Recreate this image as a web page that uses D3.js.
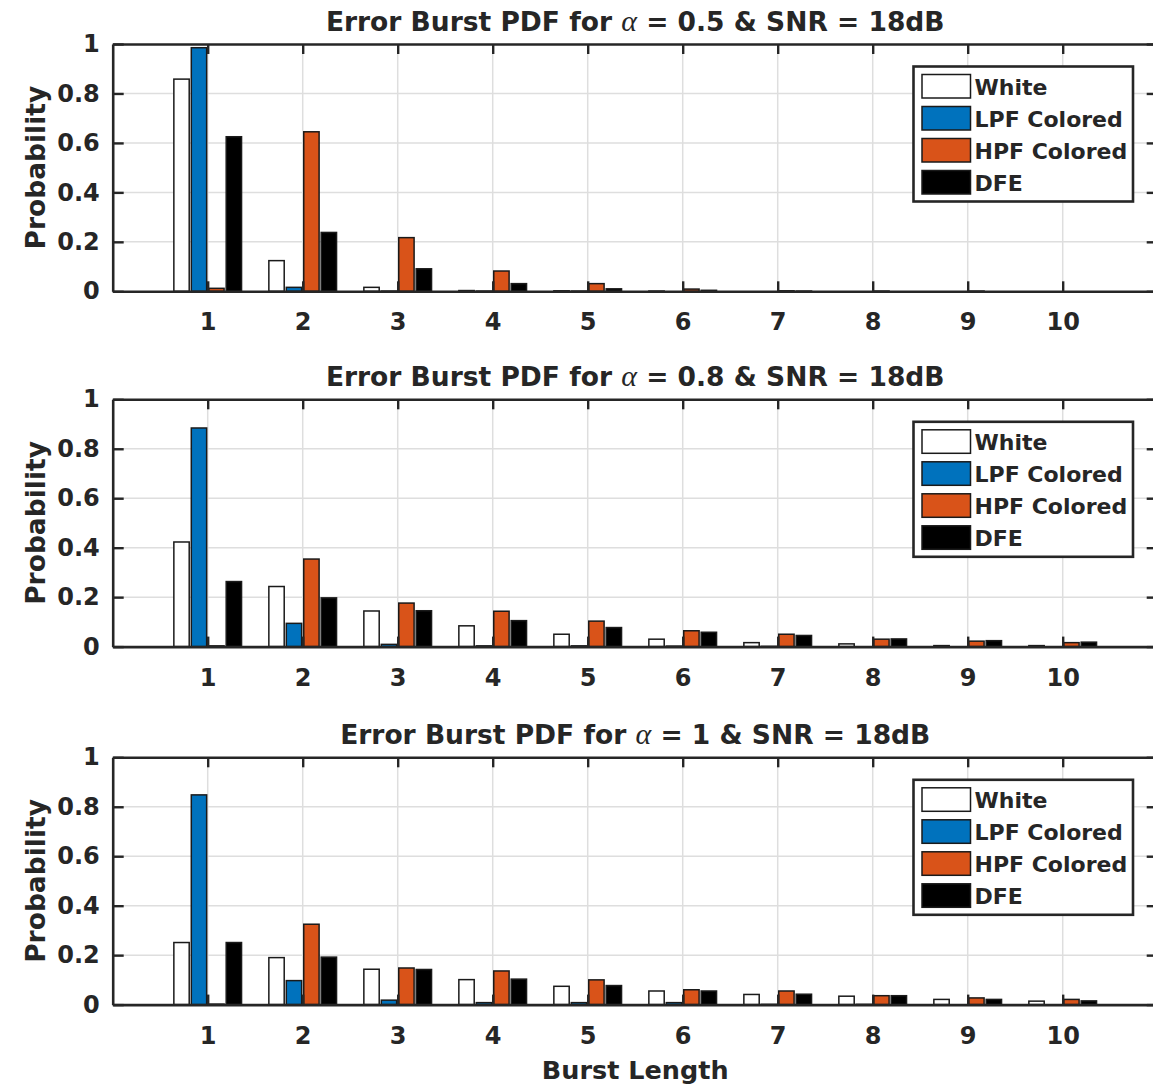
<!DOCTYPE html>
<html>
<head>
<meta charset="utf-8">
<script src="https://cdn.jsdelivr.net/npm/d3@7"></script>
<style>
  html, body { margin: 0; padding: 0; background: #fff; }
  svg { display: block; }
  text { font-family: "DejaVu Sans", sans-serif; font-weight: bold; fill: #262626; }
</style>
</head>
<body>
<svg id="chart" width="1153" height="1087"></svg>
<script>
// ---------- data ----------
const categories = [1, 2, 3, 4, 5, 6, 7, 8, 9, 10];
const seriesNames = ["White", "LPF Colored", "HPF Colored", "DFE"];
const seriesColors = ["#ffffff", "#0072BD", "#D95319", "#000000"];
const yTicks = [0, 0.2, 0.4, 0.6, 0.8, 1];
const yTickLabels = ["0", "0.2", "0.4", "0.6", "0.8", "1"];
const alphaValues = ["0.5", "0.8", "1"];
const snrLabel = "18dB";

// alpha = 0.5
const white05 = [0.858, 0.124, 0.016, 0.003, 0.002, 0.001, 0, 0, 0, 0];
const lpf05   = [0.985, 0.016, 0.001, 0.001, 0.001, 0, 0, 0, 0, 0];
const hpf05   = [0.012, 0.645, 0.217, 0.082, 0.031, 0.009, 0.002, 0.001, 0.001, 0];
const dfe05   = [0.625, 0.238, 0.091, 0.031, 0.010, 0.004, 0.001, 0, 0, 0];
// alpha = 0.8
const white08 = [0.423, 0.243, 0.144, 0.084, 0.050, 0.030, 0.016, 0.011, 0.004, 0.004];
const lpf08   = [0.884, 0.094, 0.009, 0.003, 0.003, 0.002, 0.001, 0, 0, 0];
const hpf08   = [0.003, 0.354, 0.176, 0.143, 0.103, 0.064, 0.050, 0.030, 0.022, 0.016];
const dfe08   = [0.263, 0.197, 0.145, 0.105, 0.077, 0.058, 0.045, 0.031, 0.024, 0.018];
// alpha = 1
const white10 = [0.251, 0.190, 0.143, 0.101, 0.074, 0.055, 0.041, 0.034, 0.021, 0.014];
const lpf10   = [0.848, 0.097, 0.018, 0.008, 0.008, 0.008, 0.001, 0.001, 0, 0];
const hpf10   = [0.002, 0.325, 0.148, 0.136, 0.100, 0.060, 0.055, 0.036, 0.027, 0.021];
const dfe10   = [0.251, 0.192, 0.142, 0.103, 0.077, 0.055, 0.042, 0.036, 0.021, 0.015];

const panelData = [
  [white05, lpf05, hpf05, dfe05],
  [white08, lpf08, hpf08, dfe08],
  [white10, lpf10, hpf10, dfe10]
];

// ---------- layout ----------
const svg = d3.select("#chart");
const axLeft = 112.7, axRight = 1157.7;
const panelTops = [44, 399.3, 757.3];
const panelH = 247.3;
const axisColor = "#262626";
const gridColor = "#dedede";

const x = d3.scaleLinear().domain([0, 11]).range([axLeft, axRight]);
const unit = x(1) - x(0);
const groupWidth = 4 / 5.5;
const inner = d3.scaleBand().domain(seriesNames)
  .range([-groupWidth / 2 * unit, groupWidth / 2 * unit]).paddingInner(0.12).paddingOuter(0.04);

panelData.forEach((series, pi) => {
  const top = panelTops[pi];
  const bottom = top + panelH;
  const y = d3.scaleLinear().domain([0, 1]).range([bottom, top]);
  const g = svg.append("g");

  // grid
  g.append("g").selectAll("line.vg").data(categories).join("line")
    .attr("x1", d => x(d)).attr("x2", d => x(d))
    .attr("y1", top).attr("y2", bottom)
    .attr("stroke", gridColor).attr("stroke-width", 1.5);
  g.append("g").selectAll("line.hg").data(yTicks.slice(1, -1)).join("line")
    .attr("x1", axLeft).attr("x2", axRight)
    .attr("y1", d => y(d)).attr("y2", d => y(d))
    .attr("stroke", gridColor).attr("stroke-width", 1.5);

  // bars
  series.forEach((vals, si) => {
    g.append("g").selectAll("rect").data(categories).join("rect")
      .attr("x", (d) => x(d) + inner(seriesNames[si]))
      .attr("width", inner.bandwidth())
      .attr("y", (d, i) => y(vals[i]))
      .attr("height", (d, i) => bottom - y(vals[i]))
      .attr("fill", seriesColors[si])
      .attr("stroke", "#1a1a1a").attr("stroke-width", 1.5);
  });

  // axes (d3 axes, inward ticks)
  const xAxisB = d3.axisBottom(x).tickValues(categories).tickSizeInner(-10).tickSizeOuter(0).tickPadding(22);
  const xAxisT = d3.axisTop(x).tickValues(categories).tickSizeInner(-10).tickSizeOuter(0).tickFormat("");
  const yAxisL = d3.axisLeft(y).tickValues(yTicks).tickSizeInner(-11).tickSizeOuter(0).tickPadding(13)
    .tickFormat((d, i) => yTickLabels[i]);
  const yAxisR = d3.axisRight(y).tickValues(yTicks).tickSizeInner(-11).tickSizeOuter(0).tickFormat("");

  const styleAxis = sel => {
    sel.select(".domain").attr("stroke", axisColor).attr("stroke-width", 2.6);
    sel.selectAll(".tick line").attr("stroke", axisColor).attr("stroke-width", 2.4);
    sel.selectAll(".tick text").attr("fill", axisColor)
      .style("font-family", "'DejaVu Sans', sans-serif").style("font-weight", "bold").style("font-size", "24px");
  };
  g.append("g").attr("transform", `translate(0,${bottom})`).call(xAxisB).call(styleAxis);
  g.append("g").attr("transform", `translate(0,${top})`).call(xAxisT).call(styleAxis);
  g.append("g").attr("transform", `translate(${axLeft},0)`).call(yAxisL).call(styleAxis);
  g.append("g").attr("transform", `translate(${axRight},0)`).call(yAxisR).call(styleAxis);

  // title
  const t = g.append("text").attr("x", (axLeft + axRight) / 2).attr("y", top - 13)
    .attr("text-anchor", "middle").style("font-size", "26.5px").attr("fill", "#111");
  t.append("tspan").text("Error Burst PDF for ");
  t.append("tspan").text("α").style("font-family", "'Liberation Serif', serif")
    .style("font-style", "italic").style("font-weight", "normal").style("font-size", "30px");
  t.append("tspan").text(` = ${alphaValues[pi]} & SNR = ${snrLabel}`);

  // y label
  g.append("text").attr("transform", `translate(45,${(top + bottom) / 2}) rotate(-90)`)
    .attr("text-anchor", "middle").style("font-size", "26.5px").text("Probability");

  // legend
  const lx = 913.5, ly = top + 22.5, lw = 219.5, lh = 135;
  const lg = g.append("g");
  lg.append("rect").attr("x", lx).attr("y", ly).attr("width", lw).attr("height", lh)
    .attr("fill", "#fff").attr("stroke", axisColor).attr("stroke-width", 2.6);
  seriesNames.forEach((name, si) => {
    const ry = ly + 8 + si * 32;
    lg.append("rect").attr("x", lx + 8.5).attr("y", ry).attr("width", 48.5).attr("height", 23.5)
      .attr("fill", seriesColors[si]).attr("stroke", "#1a1a1a").attr("stroke-width", 1.5);
    lg.append("text").attr("x", lx + 61).attr("y", ry + 20).style("font-size", "22px")
      .attr("fill", "#111").text(name);
  });
});

// x label
svg.append("text").attr("x", (axLeft + axRight) / 2).attr("y", 1079)
  .attr("text-anchor", "middle").style("font-size", "25.5px").text("Burst Length");
</script>
</body>
</html>
